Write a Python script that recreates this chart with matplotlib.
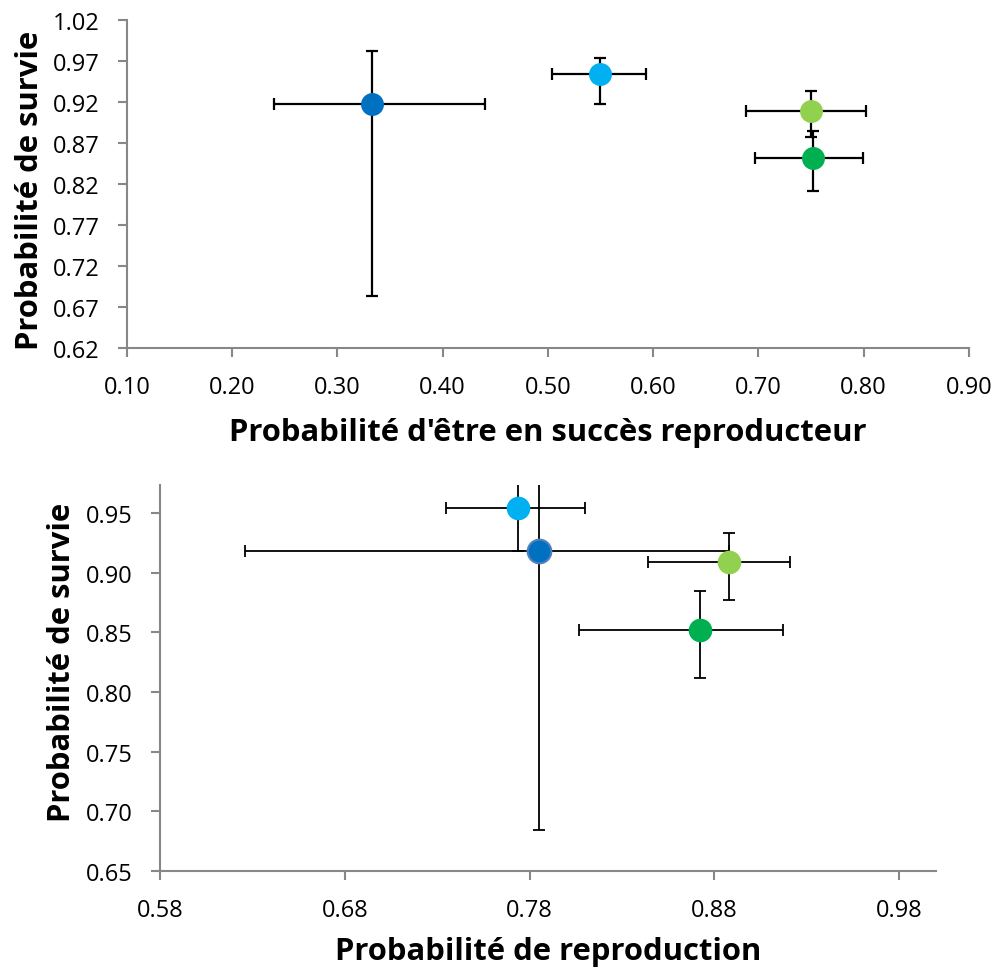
import matplotlib
matplotlib.use("Agg")
import matplotlib.pyplot as plt
import numpy as np

# Data (order: dark blue, light blue, light green, green)
colors = ["#0070C0", "#00B0F0", "#92D050", "#00B050"]
survie = [0.918, 0.954, 0.909, 0.852]
survie_low = [0.684, 0.918, 0.877, 0.812]
survie_high = [0.982, 0.974, 0.933, 0.885]
succes = [0.333, 0.549, 0.750, 0.752]
succes_low = [0.240, 0.504, 0.688, 0.697]
succes_high = [0.440, 0.593, 0.802, 0.799]
repro = [0.785, 0.774, 0.888, 0.872]
repro_low = [0.626, 0.735, 0.844, 0.807]
repro_high = [0.888, 0.810, 0.921, 0.917]

top_xticks = [0.10, 0.20, 0.30, 0.40, 0.50, 0.60, 0.70, 0.80, 0.90]
top_yticks = [0.62, 0.67, 0.72, 0.77, 0.82, 0.87, 0.92, 0.97, 1.02]
bot_xticks = [0.58, 0.68, 0.78, 0.88, 0.98]
bot_yticks = [0.65, 0.70, 0.75, 0.80, 0.85, 0.90, 0.95]

plt.rcParams['font.family'] = ['Open Sans', 'DejaVu Sans']

W, H = 995, 970
fig = plt.figure(figsize=(W / 100, H / 100), dpi=100)

def ax_rect(l, t, r, b):
    return [l / W, 1 - b / H, (r - l) / W, (b - t) / H]

ax1 = fig.add_axes(ax_rect(127, 21, 969, 349))
ax2 = fig.add_axes(ax_rect(160, 486, 936, 872))

spine_c = "#878787"
LBL = 22.3

def style(ax):
    for s in ["top", "right"]:
        ax.spines[s].set_visible(False)
    for s in ["left", "bottom"]:
        ax.spines[s].set_color(spine_c)
        ax.spines[s].set_linewidth(1.5)
    ax.tick_params(axis="both", direction="out", length=6.5, width=1.5,
                   color=spine_c, labelsize=17, labelcolor="black", pad=13)

def draw(ax, xs, xlo, xhi, ys, ylo, yhi, ms, lw, cap, edges):
    for i in range(len(xs)):
        xerr = [[xs[i] - xlo[i]], [xhi[i] - xs[i]]]
        yerr = [[ys[i] - ylo[i]], [yhi[i] - ys[i]]]
        ax.errorbar([xs[i]], [ys[i]], xerr=xerr, yerr=yerr, fmt="none",
                    ecolor="black", elinewidth=lw, capsize=cap, capthick=lw,
                    zorder=2)
    for i in range(len(xs)):
        ec = edges[i] if edges[i] else colors[i]
        ax.plot([xs[i]], [ys[i]], "o", color=colors[i], markersize=ms,
                markeredgecolor=ec, markeredgewidth=1.5 if edges[i] else 0,
                zorder=3, clip_on=False)

draw(ax1, succes, succes_low, succes_high, survie, survie_low, survie_high,
     16.5, 1.6, 4, [None, None, None, None])
ax1.set_xlim(0.10, 0.90)
ax1.set_ylim(0.62, 1.02)
ax1.set_xticks(top_xticks)
ax1.set_xticklabels([f"{v:.2f}" for v in top_xticks])
ax1.set_yticks(top_yticks)
ax1.set_yticklabels([f"{v:.2f}" for v in top_yticks])
style(ax1)
fig.text(548 / W, 1 - 441 / H, "Probabilité d'être en succès reproducteur",
         ha="center", va="baseline", fontsize=LBL, fontweight="bold")
fig.text(38 / W, 1 - 190 / H, "Probabilité de survie", rotation=90,
         rotation_mode="anchor", ha="center", va="baseline",
         fontsize=LBL, fontweight="bold")

draw(ax2, repro, repro_low, repro_high, survie, survie_low, survie_high,
     17, 1.3, 4, ["#4F81BD", None, None, None])
ax2.set_xlim(0.58, 1.00)
ax2.set_ylim(0.65, 0.9735)
ax2.set_xticks(bot_xticks)
ax2.set_xticklabels([f"{v:.2f}" for v in bot_xticks])
ax2.set_yticks(bot_yticks)
ax2.set_yticklabels([f"{v:.2f}" for v in bot_yticks])
style(ax2)
fig.text(548 / W, 1 - 960 / H, "Probabilité de reproduction",
         ha="center", va="baseline", fontsize=LBL, fontweight="bold")
fig.text(70 / W, 1 - 662 / H, "Probabilité de survie", rotation=90,
         rotation_mode="anchor", ha="center", va="baseline",
         fontsize=LBL, fontweight="bold")

fig.savefig("out.png", dpi=100, facecolor="white")
